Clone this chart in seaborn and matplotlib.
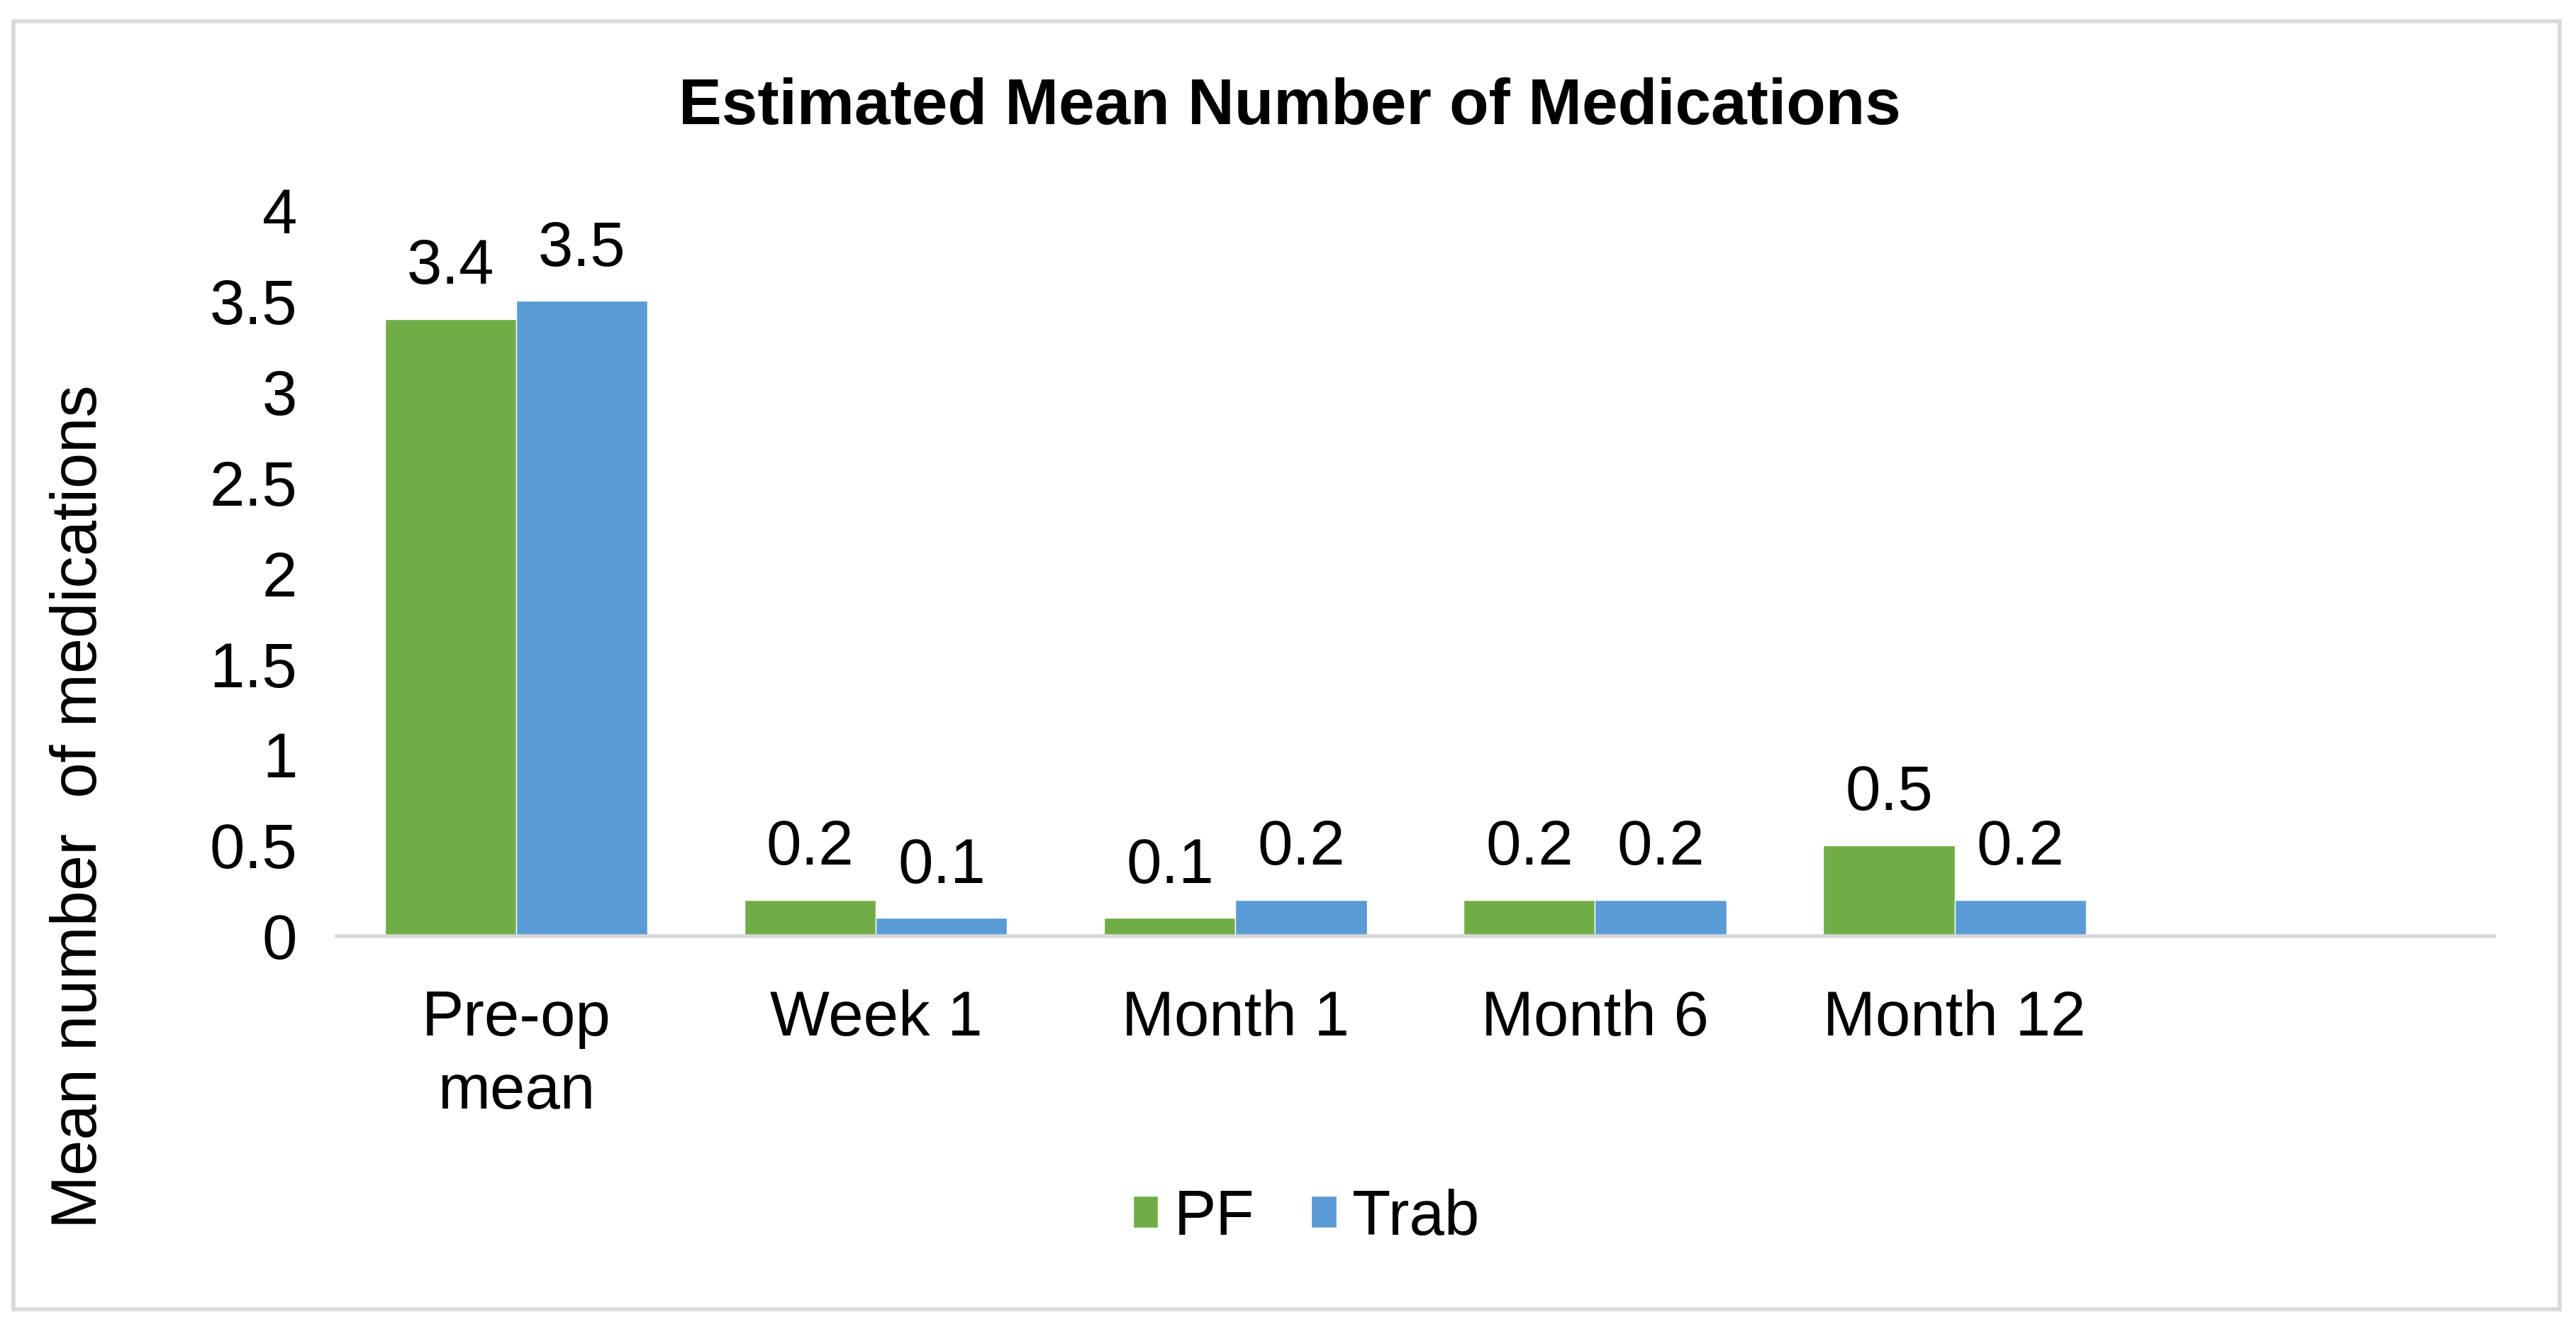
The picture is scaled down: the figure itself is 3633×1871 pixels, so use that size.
import matplotlib
matplotlib.use("Agg")
import matplotlib.pyplot as plt
import pandas as pd
import seaborn as sns
from matplotlib.patches import Rectangle, Patch

# ---------------------------------------------------------------------------
# Data
# ---------------------------------------------------------------------------
categories = ["Pre-op\nmean", "Week 1", "Month 1", "Month 6", "Month 12"]
groups = ["PF", "Trab"]
pf_values = [3.4, 0.2, 0.1, 0.2, 0.5]
trab_values = [3.5, 0.1, 0.2, 0.2, 0.2]
y_ticks = [0, 0.5, 1, 1.5, 2, 2.5, 3, 3.5, 4]
y_tick_labels = ["0", "0.5", "1", "1.5", "2", "2.5", "3", "3.5", "4"]

C_PF = "#70AD47"
C_TRAB = "#5B9BD5"
C_FRAME = "#D9D9D9"
FS = 64

df = pd.DataFrame({
    "Timepoint": categories * 2,
    "Group": ["PF"] * len(categories) + ["Trab"] * len(categories),
    "Meds": pf_values + trab_values,
})

sns.set_theme(style="white")
plt.rcParams["font.family"] = ["Liberation Sans", "DejaVu Sans"]
plt.rcParams["text.color"] = "black"
plt.rcParams["xtick.color"] = "black"
plt.rcParams["ytick.color"] = "black"
plt.rcParams["axes.labelcolor"] = "black"

fig = plt.figure(figsize=(36.33, 18.71), dpi=100)
ax = fig.add_axes([0.1307, 0.2946, 0.8374, 0.547])

sns.barplot(data=df, x="Timepoint", y="Meds", hue="Group",
            order=categories, hue_order=groups,
            palette={"PF": C_PF, "Trab": C_TRAB},
            width=0.73, saturation=1, errorbar=None, ax=ax, legend=False)

# value labels
for cont, vals in zip(ax.containers, [pf_values, trab_values]):
    ax.bar_label(cont, labels=[f"{v:g}" for v in vals], padding=22,
                 fontsize=FS, color="black")

ax.set_xlim(-0.5, 5.5)   # Excel leaves one empty slot on the right
ax.set_ylim(0, 4)
ax.set_yticks(y_ticks)
ax.set_yticklabels(y_tick_labels)
ax.tick_params(axis="both", length=0, labelsize=FS, labelcolor="black")
ax.tick_params(axis="x", pad=54)
ax.tick_params(axis="y", pad=40)
for lbl in ax.get_xticklabels():
    lbl.set_linespacing(1.3)
ax.set_xlabel("")
ax.set_ylabel("")
for s in ["top", "right", "left"]:
    ax.spines[s].set_visible(False)
ax.spines["bottom"].set_color(C_FRAME)
ax.spines["bottom"].set_linewidth(4)
ax.grid(False)

fig.text(0.5006, 0.919, "Estimated Mean Number of Medications",
         ha="center", va="center", fontsize=65.5, fontweight="bold")
fig.text(0.031, 0.392, "Mean number  of medications", rotation=90,
         ha="center", va="center", fontsize=65)

handles = [Patch(facecolor=C_PF, label="PF"), Patch(facecolor=C_TRAB, label="Trab")]
fig.legend(handles=handles, loc="center", bbox_to_anchor=(0.507, 0.082), ncol=2,
           frameon=False, fontsize=FS, handlelength=0.4, handleheight=0.4,
           handletextpad=0.25, columnspacing=0.9)

fig.patches.append(Rectangle((8 / 1568, 1 - 797 / 808), 1550 / 1568, 784 / 808,
                             transform=fig.transFigure, fill=False,
                             edgecolor=C_FRAME, linewidth=4))

fig.savefig("out.png", dpi=100, facecolor="white")
plt.close(fig)
